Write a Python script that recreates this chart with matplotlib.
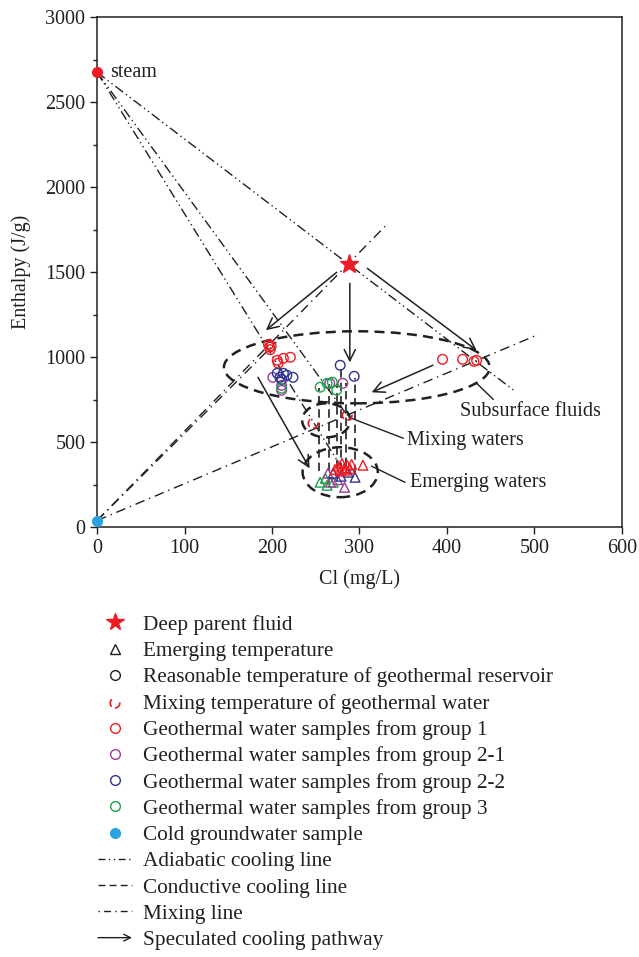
import matplotlib
matplotlib.use("Agg")
import matplotlib.pyplot as plt
from matplotlib.lines import Line2D
from matplotlib.patches import Ellipse, FancyArrowPatch
from matplotlib.legend_handler import HandlerBase
from matplotlib.ticker import MultipleLocator

plt.rcParams['font.family'] = ['Liberation Serif', 'DejaVu Serif']

RED = '#ec1c24'
PURPLE = '#9b3d93'
BLUE = '#2e3192'
GREEN = '#1ca04a'
CYAN = '#29a3e0'
INK = '#231f20'

# end members
steam = (0, 2676)
cold = (0, 40)
parent = (288, 1547)

# mixing temperature points
mix_cl = [247, 286]
mix_h = [612, 659]

# geothermal water samples (reservoir temperature)
g1_cl = [196, 197, 198, 199, 206, 213, 221, 207, 395, 418, 431, 434]
g1_h = [1075, 1060, 1045, 1066, 982, 994, 1000, 965, 988, 988, 976, 982]
g21_cl = [201, 211, 211, 266, 281]
g21_h = [882, 835, 806, 847, 847]
g22_cl = [206, 213, 217, 224, 209, 278, 294, 211]
g22_h = [906, 906, 894, 882, 882, 953, 888, 870]
g3_cl = [255, 263, 269, 274, 211]
g3_h = [824, 847, 853, 806, 818]

# emerging temperature (triangles)
e1_cl = [272, 276, 280, 283, 286, 289, 291, 278, 284, 304]
e1_h = [340, 360, 376, 350, 365, 345, 370, 330, 336, 365]
e22_cl = [270, 295, 287, 279]
e22_h = [318, 294, 324, 300]
e21_cl = [264, 283, 267, 275]
e21_h = [318, 235, 265, 280]
e3_cl = [255, 263, 270, 261]
e3_h = [265, 247, 265, 288]

# adiabatic lines (from steam)
adia_end = [(478, 800), (286, 659), (282, 330)]
# mixing lines (from cold water)
mixl_end = [(333, 1790), (505, 1135), (205, 1090)]
# conductive cooling lines
cond_cl = [254, 265, 274, 279, 285, 295]
cond_top = [820, 840, 845, 930, 850, 880]
cond_bot = [330, 330, 350, 330, 360, 320]
# speculated cooling pathways
arr_start = [(274, 1500), (289, 1435), (309, 1523), (384, 953), (184, 882)]
arr_end = [(193, 1159), (289, 970), (434, 1041), (314, 794), (243, 347)]
# grouping ellipses: centre, width, height
ell_c = [(297, 941), (262, 629), (278, 324)]
ell_w = [304, 55, 86]
ell_h = [424, 200, 294]
# labels
lab_txt = ['Subsurface fluids', 'Mixing waters', 'Emerging waters']
lab_pos = [(415, 682), (354, 512), (358, 265)]
lead_a = [(434, 847), (291, 641), (314, 359)]
lead_b = [(453, 753), (350, 524), (352, 265)]

ADIA = (0, (7, 2.5, 1, 2.5, 1, 2.5))
MIXL = (0, (7, 3.5, 1, 3.5))
COND = (0, (5, 3))

fig = plt.figure(figsize=(6.39, 9.57), dpi=100)
ax = fig.add_axes([0.152, 0.449, 0.821, 0.533])

for e in adia_end:
    ax.plot([steam[0], e[0]], [steam[1], e[1]], color=INK, lw=1.0, ls=ADIA)
for e in mixl_end:
    ax.plot([cold[0], e[0]], [cold[1], e[1]], color=INK, lw=1.0, ls=MIXL)
for x, t, b in zip(cond_cl, cond_top, cond_bot):
    ax.plot([x, x], [b, t], color=INK, lw=1.2, ls=COND)
for c, w, h in zip(ell_c, ell_w, ell_h):
    ax.add_patch(Ellipse(c, w, h, fill=False, ec=INK, lw=1.8, ls=(0, (4, 2.5))))
for s, e in zip(arr_start, arr_end):
    ax.annotate('', xy=e, xytext=s,
                arrowprops=dict(arrowstyle='->', color=INK, lw=1.1, mutation_scale=20,
                                shrinkA=0, shrinkB=0))
for a, b in zip(lead_a, lead_b):
    ax.plot([a[0], b[0]], [a[1], b[1]], color=INK, lw=1.0)
for t, p in zip(lab_txt, lab_pos):
    ax.text(p[0], p[1], t, fontsize=14.5, color=INK, va='center', ha='left')

ms = 48
ax.scatter(g1_cl, g1_h, s=ms, facecolors='none', edgecolors=RED, lw=1.0, zorder=4)
ax.scatter(g21_cl, g21_h, s=ms, facecolors='none', edgecolors=PURPLE, lw=1.0, zorder=4)
ax.scatter(g22_cl, g22_h, s=ms, facecolors='none', edgecolors=BLUE, lw=1.0, zorder=4)
ax.scatter(g3_cl, g3_h, s=ms, facecolors='none', edgecolors=GREEN, lw=1.0, zorder=4)
ax.scatter(e3_cl, e3_h, s=ms, marker='^', facecolors='none', edgecolors=GREEN, lw=1.0, zorder=4)
ax.scatter(e21_cl, e21_h, s=ms, marker='^', facecolors='none', edgecolors=PURPLE, lw=1.0, zorder=4)
ax.scatter(e22_cl, e22_h, s=ms, marker='^', facecolors='none', edgecolors=BLUE, lw=1.0, zorder=4)
ax.scatter(e1_cl, e1_h, s=ms, marker='^', facecolors='none', edgecolors=RED, lw=1.0, zorder=4)
mixsc = ax.scatter(mix_cl, mix_h, s=ms, facecolors='none', edgecolors=RED, lw=1.2,
                   linestyles=[(0, (5, 6))], zorder=4)
ax.plot(*parent, marker='*', color=RED, ms=14, zorder=5)
ax.plot(*steam, marker='o', color=RED, ms=7, zorder=5, clip_on=False)
ax.plot(*cold, marker='o', color=CYAN, ms=7, zorder=5, clip_on=False)
ax.text(15, steam[1], 'steam', fontsize=14.5, color=INK, va='center', ha='left')

ax.set_xlim(0, 600)
ax.set_ylim(0, 3000)
ax.xaxis.set_major_locator(MultipleLocator(100))
ax.yaxis.set_major_locator(MultipleLocator(500))
ax.yaxis.set_minor_locator(MultipleLocator(250))
ax.tick_params(which='both', direction='out', labelsize=14.5, colors=INK, width=1.0)
ax.tick_params(which='major', length=5)
ax.tick_params(which='minor', length=3)
for sp in ax.spines.values():
    sp.set_color(INK)
    sp.set_linewidth(1.1)
ax.set_xlabel('Cl (mg/L)', fontsize=14.5, color=INK, labelpad=8)
ax.set_ylabel('Enthalpy (J/g)', fontsize=14.5, color=INK, labelpad=10)


class HandlerArrow(HandlerBase):
    def create_artists(self, legend, orig_handle, xdescent, ydescent, width, height, fontsize, trans):
        y = height / 2 - ydescent
        p = FancyArrowPatch((-xdescent, y), (-xdescent + width, y), arrowstyle='->',
                            mutation_scale=12, lw=1.0, color=INK, transform=trans,
                            shrinkA=0, shrinkB=0)
        return [p]


arrow_key = FancyArrowPatch((0, 0), (1, 1))
handles = [
    Line2D([], [], ls='none', marker='*', color=RED, ms=13),
    Line2D([], [], ls='none', marker='^', mfc='none', mec=INK, ms=7),
    Line2D([], [], ls='none', marker='o', mfc='none', mec=INK, ms=7),
    mixsc,
    Line2D([], [], ls='none', marker='o', mfc='none', mec=RED, ms=7),
    Line2D([], [], ls='none', marker='o', mfc='none', mec=PURPLE, ms=7),
    Line2D([], [], ls='none', marker='o', mfc='none', mec=BLUE, ms=7),
    Line2D([], [], ls='none', marker='o', mfc='none', mec=GREEN, ms=7),
    Line2D([], [], ls='none', marker='o', color=CYAN, ms=7),
    Line2D([], [], color=INK, lw=1.0, ls=(0, (5, 2.5, 1, 2.5, 1, 2.5))),
    Line2D([], [], color=INK, lw=1.0, ls=(0, (5, 3))),
    Line2D([], [], color=INK, lw=1.0, ls=(0, (1, 3, 5, 3))),
    arrow_key,
]
labels = ['Deep parent fluid', 'Emerging temperature',
          'Reasonable temperature of geothermal reservoir',
          'Mixing temperature of geothermal water',
          'Geothermal water samples from group 1',
          'Geothermal water samples from group 2-1',
          'Geothermal water samples from group 2-2',
          'Geothermal water samples from group 3',
          'Cold groundwater sample', 'Adiabatic cooling line',
          'Conductive cooling line', 'Mixing line', 'Speculated cooling pathway']
fig.legend(handles, labels, loc='upper left', bbox_to_anchor=(98 / 639, 1 - 615 / 957),
           frameon=False, fontsize=15.3, handlelength=1.6, handletextpad=0.5,
           labelspacing=0.30, borderpad=0, borderaxespad=0, scatterpoints=1,
           handler_map={arrow_key: HandlerArrow()}, labelcolor=INK)

fig.savefig('out.png', dpi=100)
